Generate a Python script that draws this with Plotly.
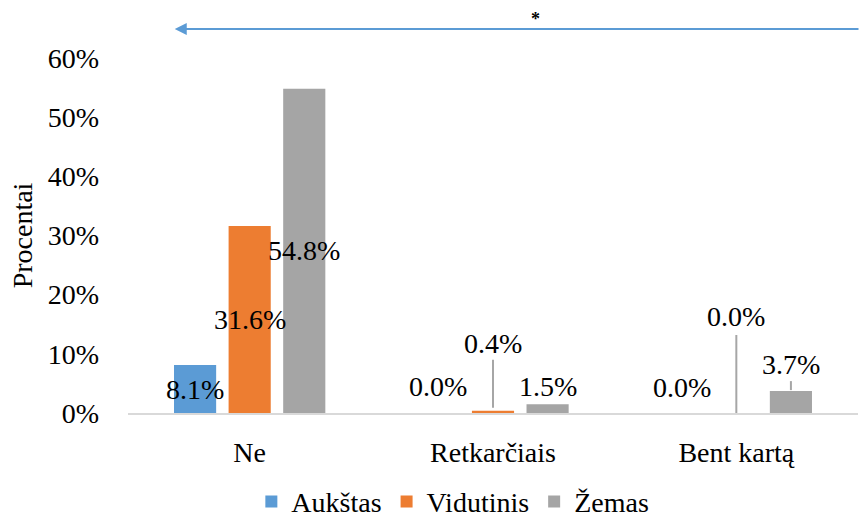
import plotly.graph_objects as go

categories = ["Ne", "Retkarčiais", "Bent kartą"]
series_names = ["Aukštas", "Vidutinis", "Žemas"]
aukstas = [8.1, 0.0, 0.0]
vidutinis = [31.6, 0.4, 0.0]
zemas = [54.8, 1.5, 3.7]
y_ticks = [0, 10, 20, 30, 40, 50, 60]
y_ticklabels = [f"{t}%" for t in y_ticks]

colors = ["#5B9BD5", "#ED7D31", "#A5A5A5"]
FONT = "'Times New Roman', 'Liberation Serif', serif"
FS = 28
bargap = 0.327
bargroupgap = 0.228
slot = (1 - bargap) / 3

# label vertical offsets (pixels) for non-centered labels, per category per series
label_shift = {1: [27, 67, 18], 2: [26, 97, 27]}
# leader lines: (category idx, series idx, y0 px, y1 px)
leaders = [(1, 1, 3, 51), (2, 1, 0, 78), (2, 2, 1, 10)]

fig = go.Figure()
series_vals = [aukstas, vidutinis, zemas]
for name, vals, c in zip(series_names, series_vals, colors):
    fig.add_trace(go.Bar(x=categories, y=vals, name=name, marker=dict(color=c, line=dict(width=0))))

annotations = []
for si, vals in enumerate(series_vals):
    for ci, v in enumerate(vals):
        xpos = ci + (si - 1) * slot
        if ci == 0:
            annotations.append(dict(x=xpos, y=v / 2, xref="x", yref="y", text=f"{v:.1f}%",
                                    showarrow=False, yanchor="middle", xanchor="center",
                                    font=dict(family=FONT, size=FS, color="black")))
        else:
            annotations.append(dict(x=xpos, y=v, xref="x", yref="y", text=f"{v:.1f}%",
                                    showarrow=False, yanchor="middle", xanchor="center",
                                    yshift=label_shift[ci][si],
                                    font=dict(family=FONT, size=FS, color="black")))

# significance arrow and asterisk
annotations.append(dict(x=0.064, y=1.082, xref="paper", yref="paper", text="",
                        showarrow=True, arrowhead=2, arrowsize=1.2, arrowwidth=2,
                        arrowcolor="#5B9BD5", ax=690, ay=0, axref="pixel", ayref="pixel",
                        standoff=0, startstandoff=0))
annotations.append(dict(x=(535 - 128) / 730, y=1.145, xref="paper", yref="paper", text="<b>*</b>",
                        showarrow=False, font=dict(family=FONT, size=18, color="black")))

shapes = []
for ci, si, y0, y1 in leaders:
    shapes.append(dict(type="line", xref="x", yref="y", xsizemode="pixel", ysizemode="pixel",
                       xanchor=ci + (si - 1) * slot, yanchor=series_vals[si][ci],
                       x0=0, x1=0, y0=y0, y1=y1, line=dict(color="#A6A6A6", width=2)))

fig.update_layout(
    width=860, height=521,
    margin=dict(l=128, r=2, t=58, b=108, autoexpand=False),
    paper_bgcolor="white", plot_bgcolor="white",
    barmode="group", bargap=bargap, bargroupgap=bargroupgap,
    font=dict(family=FONT, size=FS, color="black"),
    showlegend=True,
    legend=dict(orientation="h", x=0.445, xanchor="center", y=-0.25, yanchor="middle",
                font=dict(family=FONT, size=FS), itemwidth=30, traceorder="normal",
                tracegroupgap=0),
    annotations=annotations,
    shapes=shapes,
)
fig.update_xaxes(showline=True, linecolor="#D9D9D9", linewidth=2, showgrid=False,
                 ticks="", tickfont=dict(family=FONT, size=FS), ticklabelstandoff=13,
                 range=[-0.5, 2.5], automargin=False)
fig.update_yaxes(range=[0, 60], tickvals=y_ticks, ticktext=y_ticklabels, showgrid=False,
                 zeroline=False, showline=False, ticks="", ticklabelstandoff=28,
                 tickfont=dict(family=FONT, size=FS), automargin=False,
                 title=dict(text="Procentai", font=dict(family=FONT, size=FS), standoff=6))

fig.write_html("out.html", config={"displayModeBar": False},
               post_script="document.body.style.margin='0';document.body.style.padding='0';")
